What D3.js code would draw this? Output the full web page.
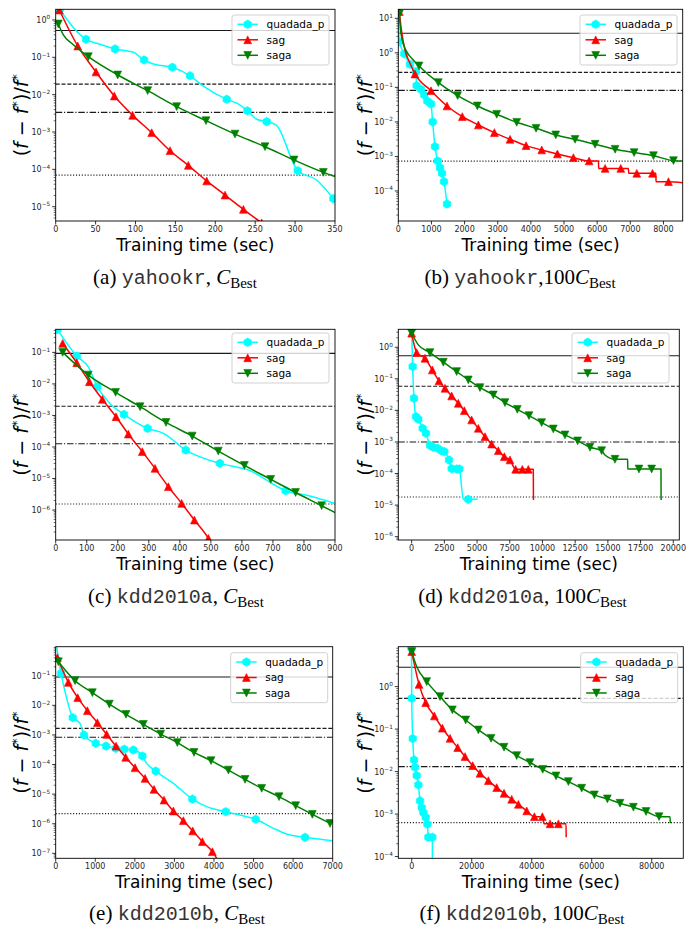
<!DOCTYPE html>
<html>
<head>
<meta charset="utf-8">
<script src="https://cdn.jsdelivr.net/npm/d3@7"></script>
<style>
  body { margin: 0; background: #fff; }
</style>
</head>
<body>
<div id="fig"></div>
<script>
// Data: [time (sec), (f - f*)/f*, marker shown 1/0]
var aQuad = [[5,1.9,1],[38,0.303,1],[55.6,0.223,0],[74.4,0.167,1],[97.3,0.136,0],[110.7,0.085,1],[122.4,0.066,0],[146.2,0.054,1],[168.3,0.032,1],[185,0.017,0],[214.3,0.0075,1],[226.8,0.0059,0],[240.2,0.0037,1],[251.9,0.0022,0],[264.4,0.0019,1],[276.1,0.00155,0],[303.3,9.2e-5,1],[327,5.2e-5,0],[348,1.64e-5,1]];
var aSag = [[4.6,1.85,1],[27.6,0.201,1],[50.5,0.0405,1],[73.5,0.0092,1],[96.5,0.00279,1],[120.3,9.6e-4,1],[143.3,3.16e-4,1],[166.2,1.28e-4,1],[189.2,4.9e-5,1],[212.2,2.05e-5,1],[235.2,8.5e-6,1],[258.1,3.7e-6,1]];
var aSaga = [[3.3,0.78,1],[9.6,0.397,0],[20,0.237,0],[40.9,0.104,1],[77.7,0.0336,1],[115.3,0.0128,1],[151.6,0.00477,1],[188.4,0.00201,1],[224.7,8.8e-4,1],[262.3,4.04e-4,1],[298.7,1.78e-4,1],[335.4,8.3e-5,1],[350,6.4e-5,0]];
var aRefs = [0.52, 0.0192, 0.00335, 7e-5];
var aTicks = [0, 50, 100, 150, 200, 250, 300, 350];

var bQuad = [[0,12,0],[30,2.1,1],[181,0.93,1],[352,0.466,1],[533,0.286,1],[553,0.112,1],[684,0.088,1],[785,0.060,1],[875,0.040,1],[986,0.033,1],[1036,0.0100,1],[1107,0.00192,1],[1187,7.4e-4,1],[1258,4.7e-4,1],[1318,3.25e-4,1],[1379,1.86e-4,1],[1469,4.2e-5,1]];
var bSag = [[30,15.6,1],[101,4.1,0],[201,1.21,0],[352,0.50,0],[503,0.244,1],[986,0.080,1],[1469,0.0289,1],[1932,0.0142,1],[2415,0.00815,1],[2898,0.00489,1],[3371,0.00313,1],[3854,0.00205,1],[4327,0.00154,1],[4800,0.00118,1],[5283,9.2e-4,1],[5756,7.4e-4,1],[6038,7.4e-4,0],[6045,4.5e-4,0],[6239,4.5e-4,1],[6712,4.5e-4,1],[6943,4.5e-4,0],[6950,3.25e-4,0],[7195,3.25e-4,1],[7668,3.25e-4,1],[7769,3.25e-4,0],[7776,1.86e-4,0],[8151,1.86e-4,1],[8584,1.74e-4,0]];
var bSaga = [[30,13.3,1],[80,3.68,0],[201,1.35,0],[403,0.695,0],[624,0.417,1],[1208,0.137,1],[1791,0.0577,1],[2385,0.0289,1],[2969,0.0166,1],[3572,0.00973,1],[4156,0.00653,1],[4750,0.00419,1],[5333,0.00313,1],[5937,0.00225,1],[6541,0.00161,1],[7114,0.00129,1],[7698,0.00105,1],[8302,7.55e-4,1],[8584,7.4e-4,0]];
var bRefs = [3.67, 0.272, 0.082, 7.3e-4];
var bTicks = [0, 1000, 2000, 3000, 4000, 5000, 6000, 7000, 8000];

var cQuad = [[5.4,0.535,1],[67.7,0.0765,1],[105,0.035,0],[134,0.00815,1],[175,0.00241,0],[220,0.00108,1],[296,3.89e-4,1],[347,2.7e-4,0],[419,8.0e-5,1],[529,3.02e-5,1],[621,1.86e-5,0],[741,4.1e-6,1],[819,2.78e-6,0],[900,1.62e-6,0]];
var cSag = [[22.5,0.193,1],[67.7,0.047,1],[108.5,0.0117,1],[150.4,0.00324,1],[194.4,9.1e-4,1],[234,2.57e-4,1],[279,7.1e-5,1],[320,2.1e-5,1],[363,5.5e-6,1],[406,1.62e-6,1],[447,4.8e-7,1],[492,1.26e-7,1],[510,6e-8,0]];
var cSaga = [[22.5,0.1,1],[105,0.0191,1],[193,0.0054,1],[272,0.00189,1],[355.5,6.0e-4,1],[440,2.22e-4,1],[524,7.4e-5,1],[608,2.6e-5,1],[693,9.4e-6,1],[773,3.6e-6,1],[857,1.37e-6,1],[900,8.3e-7,0]];
var cRefs = [0.093, 0.00195, 1.26e-4, 1.55e-6];
var cTicks = [0, 100, 200, 300, 400, 500, 600, 700, 800, 900];

var dQuad = [[0,4,1],[76,0.244,1],[178,0.0242,1],[331,0.00635,1],[510,0.00523,1],[841,0.00271,1],[1096,0.00188,1],[1401,7.8e-4,1],[1656,6.8e-4,1],[1987,6.3e-4,1],[2293,5.2e-4,1],[2497,4.94e-4,1],[2854,2.69e-4,1],[3058,1.43e-4,1],[3440,1.39e-4,1],[3644,1.39e-4,1],[3949,1.52e-5,0],[4332,1.52e-5,1],[5045,1.52e-5,0]];
var dSag = [[0,2.78,1],[382,0.678,1],[1019,0.448,1],[1580,0.191,1],[2089,0.0857,1],[2548,0.0502,1],[3058,0.0287,1],[3567,0.0168,1],[4026,0.00984,1],[4586,0.00498,1],[5096,0.00271,1],[5606,0.00148,1],[6115,8.6e-4,1],[6625,5.3e-4,1],[7083,3.43e-4,1],[7517,2.69e-4,1],[7950,1.36e-4,1],[8459,1.36e-4,1],[8918,1.36e-4,1],[9300,1.36e-4,0],[9310,1.45e-5,0]];
var dSaga = [[0,2.78,1],[510,1.19,0],[1401,0.678,1],[2421,0.335,1],[3440,0.17,1],[4332,0.0923,1],[5223,0.0527,1],[6243,0.0309,1],[7134,0.0177,1],[8077,0.0108,1],[8969,0.00684,1],[9937,0.0041,1],[10829,0.00258,1],[11721,0.00167,1],[12689,0.00108,1],[13632,6.8e-4,1],[14523,5.3e-4,1],[14778,3.87e-4,0],[15543,2.83e-4,1],[16511,2.83e-4,0],[16520,1.39e-4,0],[17377,1.39e-4,1],[18346,1.39e-4,1],[19059,1.39e-4,0],[19070,1.45e-5,0]];
var dRefs = [0.54, 0.058, 0.001, 1.8e-5];
var dTicks = [0, 2500, 5000, 7500, 10000, 12500, 15000, 17500, 20000];

var eQuad = [[25,0.95,0],[135,0.12,1],[278,0.0171,0],[430,0.00382,1],[615,0.00246,0],[716,9.9e-4,1],[1011,5.2e-4,1],[1272,4.2e-4,1],[1516,3.5e-4,1],[1735,3.3e-4,1],[1963,3.09e-4,1],[2064,2.86e-4,0],[2190,1.94e-4,1],[2300,1.09e-4,0],[2527,6.0e-5,1],[2974,2.31e-5,0],[3454,6.8e-6,1],[3816,3.77e-6,0],[4296,2.55e-6,1],[4658,1.97e-6,0],[5054,1.41e-6,1],[5501,7.0e-7,0],[5838,4.5e-7,0],[6301,3.47e-7,1],[7000,2.68e-7,0]];
var eSag = [[42,0.405,1],[320,0.0596,1],[556,0.0181,1],[800,0.00658,1],[1053,0.00259,1],[1289,0.00104,1],[1525,4.2e-4,1],[1769,1.75e-4,1],[2005,7.8e-5,1],[2258,3.4e-5,1],[2485,1.45e-5,1],[2738,6.3e-6,1],[2974,2.69e-6,1],[3226,1.27e-6,1],[3462,5.7e-7,1],[3707,2.48e-7,1],[3959,1.14e-7,1],[4069,6.8e-8,0]];
var eSaga = [[67,0.297,1],[489,0.0678,1],[927,0.0267,1],[1356,0.011,1],[1777,0.00494,1],[2215,0.00227,1],[2654,0.00107,1],[3075,5.5e-4,1],[3496,2.57e-4,1],[3926,1.35e-4,1],[4364,6.5e-5,1],[4785,3.15e-5,1],[5206,1.57e-5,1],[5644,8.2e-6,1],[6065,4.07e-6,1],[6486,2.07e-6,1],[6933,1.03e-6,1]];
var eRefs = [0.09, 0.00167, 8.3e-4, 2.2e-6];
var eTicks = [0, 1000, 2000, 3000, 4000, 5000, 6000, 7000];

var fQuad = [[-60,8,1],[0,0.53,1],[333,0.0598,1],[778,0.0188,1],[1111,0.0126,1],[1667,0.00805,1],[2222,0.00486,1],[2778,0.00204,1],[3333,0.00142,1],[3889,0.00108,1],[4667,8.4e-4,1],[5222,5.8e-4,1],[5556,2.85e-4,1],[6889,2.85e-4,1],[6900,1e-5,0]];
var fSag = [[0,6.66,1],[2444,1.13,1],[4667,0.42,1],[7555,0.204,1],[10222,0.105,1],[12778,0.0608,1],[15333,0.0367,1],[17778,0.0226,1],[20333,0.0138,1],[22778,0.00914,1],[25556,0.00614,1],[28333,0.0042,1],[30778,0.00309,1],[33333,0.00223,1],[35556,0.0017,1],[38333,0.00119,1],[40889,8.7e-4,1],[43556,8.7e-4,1],[44111,5.9e-4,0],[46111,5.9e-4,1],[48889,5.9e-4,1],[51444,5.9e-4,0],[51500,2.85e-4,0]];
var fSaga = [[0,6.66,1],[1667,2.95,0],[5000,1.31,1],[9444,0.582,1],[13555,0.283,1],[18000,0.164,1],[22222,0.0955,1],[26444,0.0608,1],[30778,0.0374,1],[35000,0.0238,1],[39444,0.0163,1],[43667,0.0113,1],[48111,0.0079,1],[52222,0.00582,1],[56667,0.00406,1],[60889,0.00283,1],[65222,0.00228,1],[69444,0.0018,1],[73889,0.00145,1],[78111,0.00115,1],[82444,8.7e-4,1],[86111,8.7e-4,0],[86200,6.1e-4,0]];
var fRefs = [2.86, 0.53, 0.0131, 6.3e-4];
var fTicks = [0, 20000, 40000, 60000, 80000];

var seriesNames = ["quadada_p", "sag", "saga"];
var seriesColors = ["#00ffff", "#ff0000", "#008000"];
var letters = ["(a) ", "(b) ", "(c) ", "(d) ", "(e) ", "(f) "];
var datasets = ["yahookr", "yahookr", "kdd2010a", "kdd2010a", "kdd2010b", "kdd2010b"];
var scaleText = [", ", ",100", ", ", ", 100", ", ", ", 100"];

// Layout of the six axes (pixel boxes and axis limits)
var panels = [
    {box: [55.7, 335, 9.3, 221], xDomain: [0, 350], yDomain: [4.14e-6, 1.93], xTicks: aTicks, data: [aQuad, aSag, aSaga], refs: aRefs, legend: [232, 15], ylabX: 28, capX: 175, capY: 283.5},
    {box: [398.3, 682.7, 9.3, 221], xDomain: [0, 8580], yDomain: [1.35e-5, 18.2], xTicks: bTicks, data: [bQuad, bSag, bSaga], refs: bRefs, legend: [580, 15], ylabX: 372, capX: 520, capY: 283.5},
    {box: [55.7, 335, 329.3, 540], xDomain: [0, 900], yDomain: [1.12e-7, 0.54], xTicks: cTicks, data: [cQuad, cSag, cSaga], refs: cRefs, legend: [232, 333], ylabX: 28, capX: 176, capY: 602.7},
    {box: [398.3, 679.3, 329.3, 540], xDomain: [-1020, 20460], yDomain: [7.85e-7, 3.7], xTicks: dTicks, data: [dQuad, dSag, dSaga], refs: dRefs, legend: [572, 333], ylabX: 372, capX: 522.5, capY: 602.7},
    {box: [55.7, 332.7, 646.7, 858.3], xDomain: [0, 7000], yDomain: [6.8e-8, 0.955], xTicks: eTicks, data: [eQuad, eSag, eSaga], refs: eRefs, legend: [230.7, 652.7], ylabX: 28, capX: 177, capY: 920},
    {box: [398.3, 683.3, 646.7, 858.3], xDomain: [-4470, 90530], yDomain: [9.1e-5, 8.7], xTicks: fTicks, data: [fQuad, fSag, fSaga], refs: fRefs, legend: [580.7, 652.7], ylabX: 372, capX: 522, capY: 920}
];

var refDash = [null, "4,1.8", "6.5,1.8,1.2,1.8", "1.1,1.8"];
var sansFont = "'DejaVu Sans', sans-serif";

var svg = d3.select("#fig")
    .append("svg")
    .attr("width", 691)
    .attr("height", 929);

svg.append("rect").attr("width", 691).attr("height", 929).attr("fill", "#fff");

// marker paths: hexagon, triangle up, triangle down
function markerPath(kind, r) {
    if (kind === 0) {
        var pts = d3.range(6).map(function(k) {
            var a = Math.PI / 2 + k * Math.PI / 3;
            return [r * Math.cos(a), -r * Math.sin(a)];
        });
        return "M" + pts.join("L") + "Z";
    }
    if (kind === 1) return `M0,${-r}L${-r},${r}L${r},${r}Z`;
    return `M0,${r}L${-r},${-r}L${r},${-r}Z`;
}
var markerSize = [4.3, 3.9, 3.9];

function supText(sel, base, exp, size) {
    sel.append("tspan").text(base);
    sel.append("tspan").attr("dy", -3.5).attr("font-size", size * 0.72).text(exp);
}

panels.forEach(function(p, pi) {
    var x0 = p.box[0], x1 = p.box[1], y0 = p.box[2], y1 = p.box[3];
    var x = d3.scaleLinear().domain(p.xDomain).range([x0, x1]);
    var y = d3.scaleLog().domain(p.yDomain).range([y1, y0]);
    var g = svg.append("g");

    var clipId = "clip" + pi;
    svg.append("clipPath").attr("id", clipId)
        .append("rect").attr("x", x0).attr("y", y0).attr("width", x1 - x0).attr("height", y1 - y0);

    var plot = g.append("g").attr("clip-path", `url(#${clipId})`);

    // horizontal reference lines
    p.refs.forEach(function(v, i) {
        plot.append("line")
            .attr("x1", x0).attr("x2", x1)
            .attr("y1", y(v)).attr("y2", y(v))
            .attr("stroke", "#1a1a1a")
            .attr("stroke-width", 1.1)
            .attr("stroke-dasharray", refDash[i]);
    });

    // series lines then markers
    var line = d3.line()
        .x(d => x(d[0]))
        .y(d => y(d[1]))
        .curve(d3.curveMonotoneX);

    p.data.forEach(function(series, si) {
        plot.append("path")
            .datum(series)
            .attr("d", line)
            .attr("fill", "none")
            .attr("stroke", seriesColors[si])
            .attr("stroke-width", 1.5)
            .attr("stroke-linejoin", "round");
        plot.selectAll(".m" + si)
            .data(series.filter(d => d[2] === 1))
            .enter()
            .append("path")
            .attr("class", "m" + si)
            .attr("transform", d => `translate(${x(d[0])},${y(d[1])})`)
            .attr("d", markerPath(si, markerSize[si]))
            .attr("fill", seriesColors[si])
            .attr("stroke", seriesColors[si])
            .attr("stroke-width", 0.6);
    });

    // frame
    g.append("rect")
        .attr("x", x0).attr("y", y0)
        .attr("width", x1 - x0).attr("height", y1 - y0)
        .attr("fill", "none").attr("stroke", "#000").attr("stroke-width", 0.9);

    // x ticks
    p.xTicks.forEach(function(t) {
        g.append("line")
            .attr("x1", x(t)).attr("x2", x(t))
            .attr("y1", y1).attr("y2", y1 + 3.5)
            .attr("stroke", "#000").attr("stroke-width", 0.8);
        g.append("text")
            .attr("x", x(t)).attr("y", y1 + 10.7)
            .attr("text-anchor", "middle")
            .attr("font-family", sansFont)
            .attr("font-size", 8)
            .attr("fill", "#262626")
            .text(t);
    });

    // y log ticks (major with labels, minor 2..9)
    var eLo = Math.floor(Math.log10(p.yDomain[0])), eHi = Math.ceil(Math.log10(p.yDomain[1]));
    for (var e = eLo; e <= eHi; e++) {
        var major = Math.pow(10, e);
        if (major >= p.yDomain[0] && major <= p.yDomain[1]) {
            g.append("line")
                .attr("x1", x0 - 3.5).attr("x2", x0)
                .attr("y1", y(major)).attr("y2", y(major))
                .attr("stroke", "#000").attr("stroke-width", 0.8);
            var lab = g.append("text")
                .attr("x", x0 - 5.5).attr("y", y(major) + 3)
                .attr("text-anchor", "end")
                .attr("font-family", sansFont)
                .attr("font-size", 8)
                .attr("fill", "#262626");
            supText(lab, "10", e < 0 ? "\u2212" + (-e) : String(e), 8);
        }
        for (var k = 2; k < 10; k++) {
            var mv = k * major;
            if (mv >= p.yDomain[0] && mv <= p.yDomain[1]) {
                g.append("line")
                    .attr("x1", x0 - 2).attr("x2", x0)
                    .attr("y1", y(mv)).attr("y2", y(mv))
                    .attr("stroke", "#000").attr("stroke-width", 0.6);
            }
        }
    }

    // axis labels
    g.append("text")
        .attr("x", (x0 + x1) / 2).attr("y", y1 + 29.7)
        .attr("text-anchor", "middle")
        .attr("font-family", sansFont)
        .attr("font-size", 17)
        .text("Training time (sec)");

    var yl = g.append("text")
        .attr("transform", `translate(${p.ylabX},${(y0 + y1) / 2}) rotate(-90)`)
        .attr("text-anchor", "middle")
        .attr("font-family", sansFont)
        .attr("font-size", 19);
    yl.append("tspan").text("(");
    yl.append("tspan").attr("font-style", "italic").text("f");
    yl.append("tspan").text(" \u2212 ");
    yl.append("tspan").attr("font-style", "italic").text("f");
    yl.append("tspan").attr("dy", -7).attr("font-size", 13).text("*");
    yl.append("tspan").attr("dy", 7).text(")/");
    yl.append("tspan").attr("font-style", "italic").text("f");
    yl.append("tspan").attr("dy", -7).attr("font-size", 13).text("*");

    // legend
    var lx = p.legend[0], ly = p.legend[1];
    var leg = g.append("g");
    leg.append("rect")
        .attr("x", lx).attr("y", ly).attr("width", 97).attr("height", 50)
        .attr("rx", 2.5)
        .attr("fill", "#fff").attr("fill-opacity", 0.8)
        .attr("stroke", "#cccccc").attr("stroke-width", 0.9);
    seriesNames.forEach(function(name, si) {
        var ry = ly + 9.3 + si * 15.5;
        leg.append("line")
            .attr("x1", lx + 5.5).attr("x2", lx + 26)
            .attr("y1", ry).attr("y2", ry)
            .attr("stroke", seriesColors[si]).attr("stroke-width", 1.5);
        leg.append("path")
            .attr("transform", `translate(${lx + 15.7},${ry})`)
            .attr("d", markerPath(si, markerSize[si]))
            .attr("fill", seriesColors[si])
            .attr("stroke", seriesColors[si]).attr("stroke-width", 0.6);
        leg.append("text")
            .attr("x", lx + 34.5).attr("y", ry + 3.8)
            .attr("font-family", sansFont)
            .attr("font-size", 10.5)
            .text(name);
    });

    // caption
    var cap = svg.append("text")
        .attr("x", p.capX).attr("y", p.capY)
        .attr("text-anchor", "middle")
        .attr("font-family", "'Liberation Serif', serif")
        .attr("font-size", 21);
    cap.append("tspan").text(letters[pi]);
    cap.append("tspan")
        .attr("font-family", "'Liberation Mono', monospace")
        .attr("font-size", 20)
        .attr("fill", "#333")
        .text(datasets[pi]);
    cap.append("tspan").text(scaleText[pi]);
    cap.append("tspan").attr("font-style", "italic").text("C");
    cap.append("tspan").attr("dy", 4).attr("font-size", 15).text("Best");
});
</script>
</body>
</html>
